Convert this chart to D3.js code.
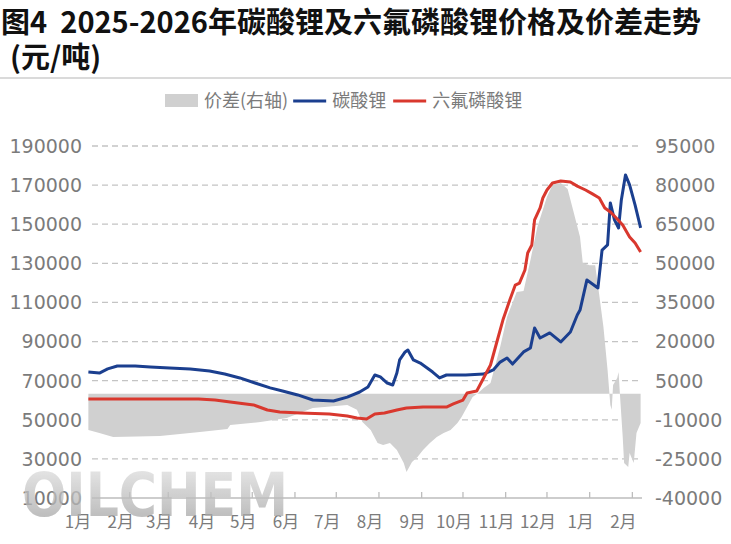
<!DOCTYPE html>
<html><head><meta charset="utf-8">
<script src="https://cdn.jsdelivr.net/npm/d3@7"></script>
<style>
html,body{margin:0;padding:0;background:#fff;}
svg{display:block;}
</style></head>
<body><svg id="c" width="731" height="544"></svg>
<script>
// ---------- data ----------
const titleLine1 = "图4\u00a0\u00a02025-2026年碳酸锂及六氟磷酸锂价格及价差走势";
const titleLine2 = "(元/吨)";
const legendLabels = ["价差(右轴)", "碳酸锂", "六氟磷酸锂"];
const leftTicks = [10000,30000,50000,70000,90000,110000,130000,150000,170000,190000];
const rightTicks = [-40000,-25000,-10000,5000,20000,35000,50000,65000,80000,95000];
const monthTickDates = ["2025-01-01","2025-02-01","2025-03-01","2025-04-01","2025-05-01","2025-06-01","2025-07-01","2025-08-01","2025-09-01","2025-10-01","2025-11-01","2025-12-01","2026-01-01","2026-02-01"];
const monthLabels = ["1月","2月","3月","4月","5月","6月","7月","8月","9月","10月","11月","12月","1月","2月"];

// 碳酸锂 (left axis)
const li2co3Dates = ["2025-01-02","2025-01-10","2025-01-16","2025-01-23","2025-02-05","2025-02-16","2025-03-02","2025-03-17","2025-03-31","2025-04-11","2025-04-22","2025-05-03","2025-05-14","2025-05-23","2025-06-03","2025-06-14","2025-06-29","2025-07-09","2025-07-18","2025-07-24","2025-07-29","2025-08-02","2025-08-07","2025-08-11","2025-08-14","2025-08-16","2025-08-20","2025-08-22","2025-08-26","2025-08-31","2025-09-05","2025-09-09","2025-09-14","2025-09-19","2025-10-03","2025-10-16","2025-10-23","2025-10-28","2025-11-02","2025-11-06","2025-11-14","2025-11-19","2025-11-22","2025-11-26","2025-12-03","2025-12-11","2025-12-18","2025-12-23","2025-12-25","2025-12-30","2026-01-07","2026-01-10","2026-01-14","2026-01-16","2026-01-19","2026-01-22","2026-01-24","2026-01-27","2026-01-30","2026-02-03","2026-02-07"];
const li2co3Values = [74400,73900,76000,77500,77500,77000,76500,76000,74900,73400,71400,68800,66300,64700,62700,60100,59600,61600,64200,66800,72900,71900,68800,67800,73900,80600,84700,85700,80600,79000,76500,74400,71400,72900,72900,73400,75500,79500,81600,78500,84700,86700,96900,91800,94400,89800,94900,103600,106100,121500,117400,136800,139400,160900,152200,148100,162400,175200,170100,159800,148100];

// 六氟磷酸锂 (left axis)
const lipf6Dates = ["2025-01-02","2025-03-23","2025-04-04","2025-04-15","2025-05-02","2025-05-12","2025-05-21","2025-06-05","2025-06-26","2025-07-09","2025-07-16","2025-07-23","2025-07-29","2025-08-05","2025-08-14","2025-08-21","2025-09-02","2025-09-19","2025-09-24","2025-10-01","2025-10-04","2025-10-11","2025-10-16","2025-10-21","2025-10-26","2025-10-30","2025-11-04","2025-11-08","2025-11-11","2025-11-15","2025-11-17","2025-11-20","2025-11-22","2025-11-26","2025-11-28","2025-12-01","2025-12-05","2025-12-11","2025-12-18","2025-12-23","2025-12-29","2026-01-03","2026-01-08","2026-01-12","2026-01-16","2026-01-21","2026-01-25","2026-01-30","2026-02-03","2026-02-07"];
const lipf6Values = [60600,60600,60100,59100,57600,55000,54000,53500,53000,51900,50900,50400,53000,53500,55000,56000,56500,56500,58100,60100,63700,64700,71400,78000,90800,101000,111300,118900,119900,126600,135300,139400,152200,158300,163400,167500,171100,172100,171600,169500,167500,165500,163400,158300,156300,152700,149600,143500,140400,135800];

// 价差 (right axis)
const spreadDates = ["2025-01-02","2025-01-10","2025-01-20","2025-02-23","2025-03-24","2025-04-13","2025-04-15","2025-05-07","2025-05-26","2025-06-14","2025-07-09","2025-07-16","2025-07-20","2025-07-26","2025-07-31","2025-08-04","2025-08-09","2025-08-14","2025-08-19","2025-08-21","2025-08-25","2025-08-29","2025-09-02","2025-09-07","2025-09-12","2025-09-17","2025-09-22","2025-09-27","2025-09-30","2025-10-04","2025-10-08","2025-10-12","2025-10-16","2025-10-21","2025-10-28","2025-11-02","2025-11-09","2025-11-14","2025-11-19","2025-11-24","2025-12-01","2025-12-05","2025-12-11","2025-12-16","2025-12-20","2025-12-25","2025-12-27","2026-01-01","2026-01-05","2026-01-07","2026-01-11","2026-01-14","2026-01-16","2026-01-17","2026-01-18","2026-01-21","2026-01-22","2026-01-23","2026-01-25","2026-01-26","2026-01-29","2026-01-30","2026-02-02","2026-02-04","2026-02-07"];
const spreadValues = [-13900,-15100,-16600,-16200,-14700,-13500,-12000,-10900,-9300,-5500,-4300,-6200,-10900,-13900,-18900,-19700,-18900,-21600,-26600,-30000,-26200,-24300,-21600,-18900,-16600,-15100,-13900,-11200,-8900,-5100,-1300,300,2200,4100,17900,29400,39000,39400,51300,63900,75500,80000,80800,78500,70400,60100,50100,49300,49300,41700,25600,9100,-4300,-6200,3300,6000,8300,-500,-16600,-26600,-28100,-22700,-26600,-15100,-11200];

// ---------- chart ----------
const parse = d3.utcParse("%Y-%m-%d");
const zip = (ds, vs) => ds.map((d, i) => ({date: parse(d), value: vs[i]}));
const li2co3 = zip(li2co3Dates, li2co3Values);
const lipf6 = zip(lipf6Dates, lipf6Values);
const spread = zip(spreadDates, spreadValues);

const svg = d3.select("#c");
const plotL = 92, plotR = 642, plotT = 146, plotB = 498;
const x = d3.scaleUtc().domain([parse("2025-01-01"), parse("2026-02-08")]).range([87, 642]);
const yL = d3.scaleLinear().domain([10000, 190000]).range([plotB, plotT]);
const yR = d3.scaleLinear().domain([-40000, 95000]).range([plotB, plotT]);

const cjk = "'Noto Sans CJK SC', 'Noto Sans', sans-serif";
const num = "'DejaVu Sans', 'Noto Sans', sans-serif";
const labelColor = "#7b7b7b";

// title
svg.append("text").attr("x", 1).attr("y", 33).text(titleLine1)
  .attr("font-family", cjk).attr("font-weight", 700).attr("font-size", 29).attr("fill", "#111");
svg.append("text").attr("x", 10).attr("y", 68).text(titleLine2)
  .attr("font-family", cjk).attr("font-weight", 700).attr("font-size", 29).attr("fill", "#111");
svg.append("line").attr("x1", 0).attr("x2", 731).attr("y1", 78).attr("y2", 78)
  .attr("stroke", "#b5b5b5").attr("stroke-width", 1);

// gridlines
svg.append("g").selectAll("line").data(leftTicks.slice(1)).join("line")
  .attr("x1", plotL).attr("x2", plotR).attr("y1", d => yL(d)).attr("y2", d => yL(d))
  .attr("stroke", "#c4c4c4").attr("stroke-width", 1.3).attr("stroke-dasharray", "6,4");

// spread area
const area = d3.area().x(d => x(d.date)).y0(yR(0)).y1(d => yR(d.value));
svg.append("path").datum(spread).attr("d", area).attr("fill", "#d0d0d0");

// x axis line + ticks
svg.append("line").attr("x1", plotL).attr("x2", plotR).attr("y1", plotB).attr("y2", plotB)
  .attr("stroke", "#bdbdbd").attr("stroke-width", 1.5);
const tickDates = monthTickDates.map(parse);
svg.append("g").selectAll("line").data(tickDates.filter(d => x(d) >= plotL)).join("line")
  .attr("x1", d => x(d)).attr("x2", d => x(d)).attr("y1", plotB).attr("y2", plotB - 6)
  .attr("stroke", "#bdbdbd").attr("stroke-width", 1.3);
svg.append("g").selectAll("text").data(tickDates).join("text")
  .attr("x", (d) => x(d) - 9).attr("y", 528).attr("text-anchor", "middle")
  .attr("font-family", cjk).attr("font-size", 17).attr("fill", labelColor)
  .text((d, i) => monthLabels[i]);

// lines
svg.append("path").datum(li2co3).attr("d", d3.line().x(d => x(d.date)).y(d => yL(d.value)))
  .attr("fill", "none").attr("stroke", "#1b3f8f").attr("stroke-width", 3).attr("stroke-linejoin", "round");
svg.append("path").datum(lipf6).attr("d", d3.line().x(d => x(d.date)).y(d => yL(d.value)))
  .attr("fill", "none").attr("stroke", "#d9382e").attr("stroke-width", 3).attr("stroke-linejoin", "round");

// left axis labels
svg.append("g").selectAll("text").data(leftTicks).join("text")
  .attr("x", 82).attr("y", d => yL(d)).attr("dy", "0.36em").attr("text-anchor", "end")
  .attr("font-family", num).attr("font-size", 19).attr("fill", labelColor).text(d => d);
// right axis labels
svg.append("g").selectAll("text").data(rightTicks).join("text")
  .attr("x", 655).attr("y", d => yR(d)).attr("dy", "0.36em").attr("text-anchor", "start")
  .attr("font-family", num).attr("font-size", 19).attr("fill", labelColor).text(d => d);

// legend
const lg = svg.append("g").attr("font-family", cjk).attr("font-size", 18).attr("fill", labelColor);
let lx = 165; const ly = 101;
lg.append("rect").attr("x", lx).attr("y", ly - 7).attr("width", 33).attr("height", 13).attr("fill", "#d0d0d0");
let t = lg.append("text").attr("x", lx + 39).attr("y", ly).attr("dy", "0.35em").text(legendLabels[0]);
lx = lx + 39 + t.node().getComputedTextLength() + 5;
lg.append("line").attr("x1", lx).attr("x2", lx + 33).attr("y1", ly).attr("y2", ly).attr("stroke", "#1b3f8f").attr("stroke-width", 3);
t = lg.append("text").attr("x", lx + 39).attr("y", ly).attr("dy", "0.35em").text(legendLabels[1]);
lx = lx + 39 + t.node().getComputedTextLength() + 7;
lg.append("line").attr("x1", lx).attr("x2", lx + 33).attr("y1", ly).attr("y2", ly).attr("stroke", "#d9382e").attr("stroke-width", 3);
lg.append("text").attr("x", lx + 39).attr("y", ly).attr("dy", "0.35em").text(legendLabels[2]);

// watermark
const defs = svg.append("defs");
const gr = defs.append("linearGradient").attr("id", "wm").attr("x1", 0).attr("y1", 0).attr("x2", 0).attr("y2", 1);
gr.append("stop").attr("offset", "0%").attr("stop-color", "#e6e6e6");
gr.append("stop").attr("offset", "100%").attr("stop-color", "#9a9a9a");
svg.append("text").attr("x", 22).attr("y", 516).text("OILCHEM")
  .attr("font-family", "'DejaVu Sans', sans-serif").attr("font-weight", 700).attr("font-size", 60)
  .attr("textLength", 266).attr("lengthAdjust", "spacingAndGlyphs")
  .attr("fill", "url(#wm)").attr("opacity", 0.75);
</script></body></html>
